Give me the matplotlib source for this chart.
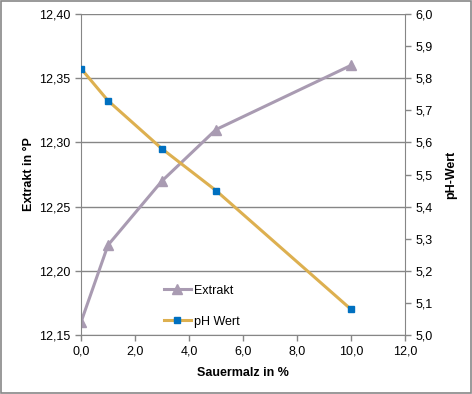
import matplotlib
matplotlib.use("Agg")
import matplotlib.pyplot as plt
from matplotlib.ticker import FuncFormatter, MultipleLocator

plt.rcParams['font.family'] = ['Liberation Sans', 'DejaVu Sans']

sauermalz = [0, 1, 3, 5, 10]
extrakt = [12.16, 12.22, 12.27, 12.31, 12.36]
ph_wert = [5.83, 5.73, 5.58, 5.45, 5.08]

fig = plt.figure(figsize=(4.72, 3.94), dpi=100)
ax = fig.add_axes([81/472, 59/394, 324/472, 321/394])
ax2 = ax.twinx()

grey = '#868686'
l1, = ax.plot(sauermalz, extrakt, color='#A99BB2', lw=2.2, marker='^', ms=6.5,
              markerfacecolor='#A99BB2', markeredgecolor='#A99BB2', label='Extrakt')
l2, = ax2.plot(sauermalz, ph_wert, color='#DDB050', lw=2.2, marker='s', ms=5,
               markerfacecolor='#0070C0', markeredgecolor='#0070C0', label='pH Wert')

ax.set_xlim(0, 12)
ax.set_ylim(12.15, 12.40)
ax2.set_ylim(5.0, 6.0)
ax.xaxis.set_major_locator(MultipleLocator(2))
ax.yaxis.set_major_locator(MultipleLocator(0.05))
ax2.yaxis.set_major_locator(MultipleLocator(0.1))

fmt = lambda d: FuncFormatter(lambda v, p: f"{v:.{d}f}".replace('.', ','))
ax.xaxis.set_major_formatter(fmt(1))
ax.yaxis.set_major_formatter(fmt(2))
ax2.yaxis.set_major_formatter(fmt(1))

ax.grid(axis='y', color=grey, lw=1)
ax.set_axisbelow(True)
for a in (ax, ax2):
    for s in a.spines.values():
        s.set_visible(False)
    a.tick_params(colors=grey, labelcolor='black', labelsize=9, length=4, width=1, direction='out')
ax.spines['left'].set_visible(True)
ax.spines['left'].set_color(grey)
ax.spines['bottom'].set_visible(True)
ax.spines['bottom'].set_color(grey)
ax2.spines['right'].set_visible(True)
ax2.spines['right'].set_color(grey)

ax.set_xlabel('Sauermalz in %', fontsize=9, fontweight='bold', labelpad=7)
ax.set_ylabel('Extrakt in °P', fontsize=9, fontweight='bold', labelpad=3)
ax2.set_ylabel('pH-Wert', fontsize=9, fontweight='bold', labelpad=9)

ax2.legend([l1, l2], ['Extrakt', 'pH Wert'], loc='lower left', bbox_to_anchor=(0.22, -0.012),
           frameon=False, fontsize=9, handlelength=2.2, labelspacing=1.5, handletextpad=0.2)

fig.patches.append(plt.Rectangle((0.002, 0.003), 0.995, 0.994, transform=fig.transFigure,
                                 fill=False, edgecolor='#888888', lw=1.2))
fig.savefig('out.png', dpi=100)
